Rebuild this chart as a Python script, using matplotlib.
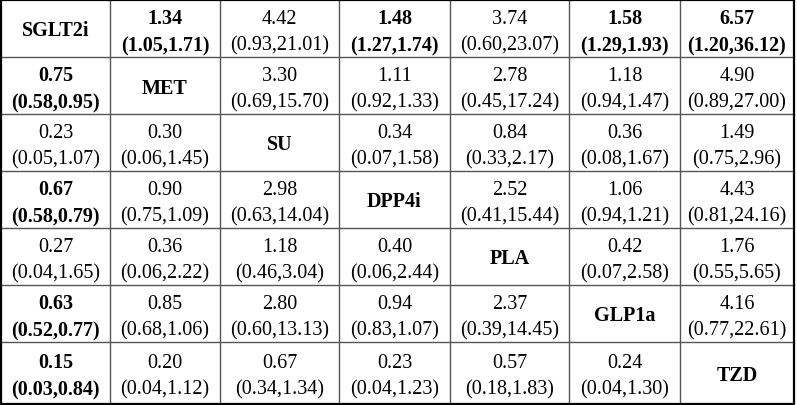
import numpy as np
import matplotlib
matplotlib.use("Agg")
import matplotlib.pyplot as plt

treatments = ["SGLT2i", "MET", "SU", "DPP4i", "PLA", "GLP1a", "TZD"]

nan = np.nan
est = [
    [nan, 1.34, 4.42, 1.48, 3.74, 1.58, 6.57],
    [0.75, nan, 3.30, 1.11, 2.78, 1.18, 4.90],
    [0.23, 0.30, nan, 0.34, 0.84, 0.36, 1.49],
    [0.67, 0.90, 2.98, nan, 2.52, 1.06, 4.43],
    [0.27, 0.36, 1.18, 0.40, nan, 0.42, 1.76],
    [0.63, 0.85, 2.80, 0.94, 2.37, nan, 4.16],
    [0.15, 0.20, 0.67, 0.23, 0.57, 0.24, nan],
]
ci_low = [
    [nan, 1.05, 0.93, 1.27, 0.60, 1.29, 1.20],
    [0.58, nan, 0.69, 0.92, 0.45, 0.94, 0.89],
    [0.05, 0.06, nan, 0.07, 0.33, 0.08, 0.75],
    [0.58, 0.75, 0.63, nan, 0.41, 0.94, 0.81],
    [0.04, 0.06, 0.46, 0.06, nan, 0.07, 0.55],
    [0.52, 0.68, 0.60, 0.83, 0.39, nan, 0.77],
    [0.03, 0.04, 0.34, 0.04, 0.18, 0.04, nan],
]
ci_high = [
    [nan, 1.71, 21.01, 1.74, 23.07, 1.93, 36.12],
    [0.95, nan, 15.70, 1.33, 17.24, 1.47, 27.00],
    [1.07, 1.45, nan, 1.58, 2.17, 1.67, 2.96],
    [0.79, 1.09, 14.04, nan, 15.44, 1.21, 24.16],
    [1.65, 2.22, 3.04, 2.44, nan, 2.58, 5.65],
    [0.77, 1.06, 13.13, 1.07, 14.45, nan, 22.61],
    [0.84, 1.12, 1.34, 1.23, 1.83, 1.30, nan],
]

W, H = 797, 406
col_edges = [1, 110, 220, 339, 450, 569, 680, 794]
row_edges = [1, 58, 115, 172, 229, 286, 343, 405]

plt.rcParams['font.family'] = ['Liberation Serif', 'DejaVu Serif']
fig = plt.figure(figsize=(W / 100, H / 100), dpi=100)
ax = fig.add_axes([0, 0, 1, 1])
ax.set_xlim(0, W)
ax.set_ylim(H, 0)
ax.axis('off')

n = len(treatments)
for x in col_edges[1:-1]:
    ax.plot([x, x], [row_edges[0], row_edges[-1]], color='#555555', lw=1.0)
for y in row_edges[1:-1]:
    ax.plot([col_edges[0], col_edges[-1]], [y, y], color='#555555', lw=1.0)
ax.plot([col_edges[0], col_edges[-1], col_edges[-1], col_edges[0], col_edges[0]],
        [row_edges[0], row_edges[0], row_edges[-1], row_edges[-1], row_edges[0]],
        color='black', lw=1.6)

fs = 14.5
for i in range(n):
    for j in range(n):
        cx = (col_edges[j] + col_edges[j + 1]) / 2
        cy = (row_edges[i] + row_edges[i + 1]) / 2
        if i == j:
            ax.text(cx, cy + 2, treatments[i], ha='center', va='center',
                    fontsize=fs, fontweight='bold')
            continue
        e, lo, hi = est[i][j], ci_low[i][j], ci_high[i][j]
        sig = (lo > 1) or (hi < 1)
        txt = f"{e:.2f}\n({lo:.2f},{hi:.2f})"
        ax.text(cx, cy + 3, txt, ha='center', va='center', fontsize=fs,
                fontweight='bold' if sig else 'normal', linespacing=1.5)

fig.savefig("out.png", dpi=100)
